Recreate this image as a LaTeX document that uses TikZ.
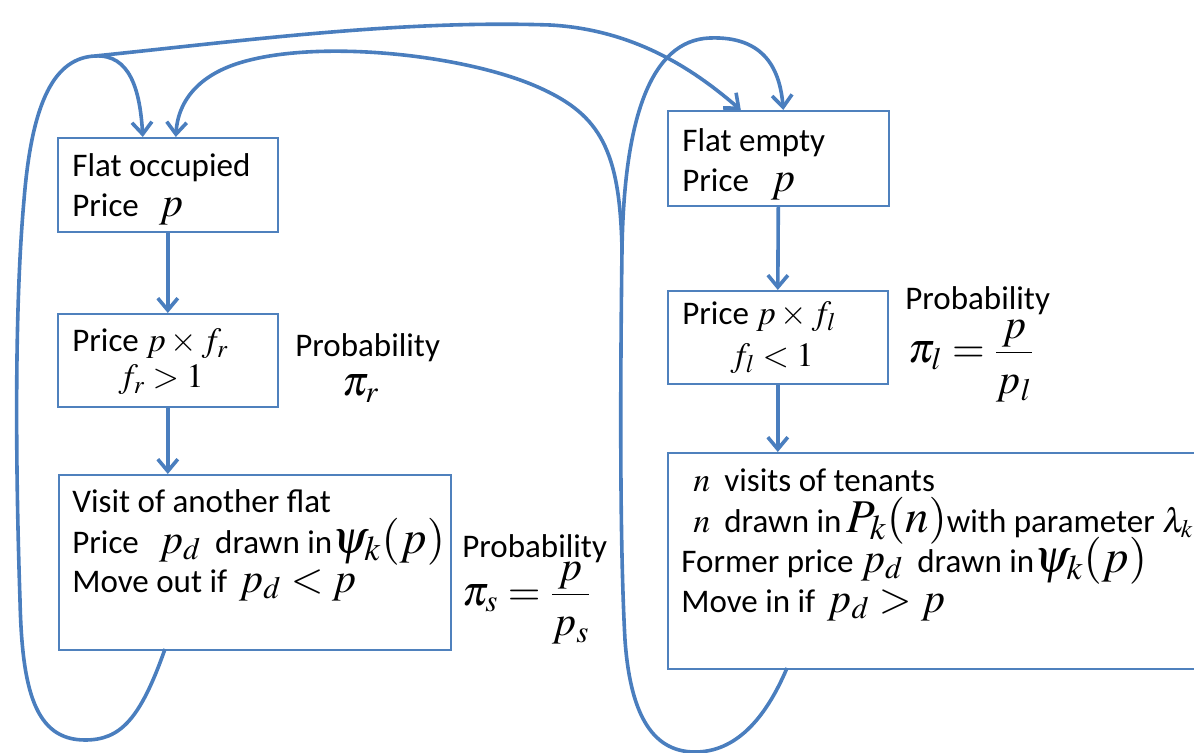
\documentclass[tikz,border=0pt]{standalone}
\usepackage{mathptmx}
\usepackage{fontspec}
\setmainfont{Carlito}
\usetikzlibrary{arrows.meta}
\definecolor{flowblue}{RGB}{74,126,190}
\definecolor{boxblue}{RGB}{79,129,189}
\newcommand\mb[1]{{\fontsize{21}{21}\selectfont$#1$}}
\newcommand\mh[1]{{\fontsize{23.5}{23.5}\selectfont$#1$}}
\newcommand\ms[1]{{\fontsize{17}{17}\selectfont$#1$}}
% fraction with the parts set lower, as in the slide
\newcommand\lowfrac[2]{\displaystyle\frac{\raisebox{-8pt}{$#1$}}{\raisebox{-1pt}{$#2$}}}

\begin{document}
\begin{tikzpicture}[x=0.5pt, y=-0.5pt,
    font=\fontsize{16.5}{20}\selectfont,
    box/.style={rectangle, draw=boxblue, line width=0.8pt, anchor=north west, inner sep=0pt},
    txt/.style={anchor=base west, inner sep=0pt},
    flow/.style={draw=flowblue, line width=1.8pt},
    conn/.style={flow, -{Straight Barb[length=6pt,width=10pt]}}]
  \useasboundingbox (0,0) rectangle (1194,753);

  % left column
  \node[box, minimum width=110pt, minimum height=47pt]   (occ) at (57,137) {};
  \node[box, minimum width=110pt, minimum height=46.5pt] (fr)  at (57,313) {};
  \node[box, minimum width=196pt, minimum height=87.5pt] (vis) at (58,474) {};
  \node[txt] (occ-a) at (72,177) {Flat occupied};
  \node[txt] (occ-b) at (72,217) {Price\hspace{10pt}\mb{p}};
  \node[txt] (fr-a)  at (72,352) {Price \ms{p\times f_r}};
  \node[txt] (fr-b)  at (118,388) {\ms{f_r>1}};
  \node[txt] (prob-r) at (295,357) {Probability};
  \node[txt] (pi-r)  at (342,396) {\mb{\pi_r}};
  \node[txt] (vis-a) at (72,512) {Visit of another flat};
  \node[txt] (vis-b) at (72,553) {Price\hspace{10pt}\mb{p_d}\hspace{7pt}drawn in\mh{\psi_k(p)}};
  \node[txt] (vis-c) at (72,592) {Move out if\hspace{6pt}\mb{p_d<p}};
  \node[txt] (prob-s) at (462,557) {Probability};
  \node[txt] (pi-s)  at (462,605) {\mb{\pi_s=\lowfrac{p}{p_s}}};

  % right column
  \node[box, minimum width=110.5pt, minimum height=47.5pt] (emp) at (667,110) {};
  \node[box, minimum width=110pt, minimum height=46.5pt]   (fl)  at (667,290) {};
  \node[box, minimum width=268pt, minimum height=108pt]    (ten) at (667,452) {};
  \node[txt] (emp-a) at (682,152) {Flat empty};
  \node[txt] (emp-b) at (682,192) {Price\hspace{11pt}\mb{p}};
  \node[txt] (fl-a)  at (682,325) {Price \ms{p\times f_l}};
  \node[txt] (fl-b)  at (730,367) {\ms{f_l<1}};
  \node[txt] (prob-l) at (905,310) {Probability};
  \node[txt] (pi-l)  at (908,363) {\mb{\pi_l=\lowfrac{p}{p_l}}};
  \node[txt] (ten-a) at (693,492) {\ms{n}\hspace{7pt}visits of tenants};
  \node[txt] (ten-b) at (693,532) {\ms{n}\hspace{7pt}drawn in\,\mh{P_k(n)}with parameter \ms{\lambda_k}};
  \node[txt] (ten-c) at (681,572) {Former price \mb{p_d}\hspace{7pt}drawn in\mh{\psi_k(p)}};
  \node[txt] (ten-d) at (681,612) {Move in if\hspace{6pt}\mb{p_d>p}};

  % straight steps
  \draw[conn] (occ.south) -- (fr.north);
  \draw[conn] (fr.south) -- (fr.south |- vis.north);
  \draw[conn] (emp.south) -- (fl.north);
  \draw[conn] (fl.south) -- (fl.south |- ten.north);

  % loops back to the top
  \coordinate (vout) at (165,649);
  \coordinate (tout) at (787,668);
  \coordinate (jl) at (95,56);
  \coordinate (jr) at (622,250);
  \draw[flow] (vout) .. controls (140,720) and (120,740) .. (85,740)
    .. controls (35,740) and (22,690) .. (20,600)
    .. controls (15,450) and (15,300) .. (24,200)
    .. controls (32,100) and (55,58) .. (jl);
  \draw[conn] (jl) .. controls (130,54) and (140,90) .. ([xshift=-12.5pt]occ.north);
  \draw[conn] (jl) .. controls (250,40) and (400,20) .. (550,25)
    .. controls (640,30) and (700,75) .. ([xshift=-18.75pt]emp.north);
  \draw[flow] (tout) .. controls (765,720) and (735,752) .. (695,752)
    .. controls (650,752) and (630,710) .. (625,640)
    .. controls (620,550) and (620,400) .. (jr);
  \draw[conn] (jr) .. controls (624,120) and (650,40) .. (710,38)
    .. controls (765,36) and (780,70) .. ([xshift=2.5pt]emp.north);
  \draw[conn] (jr) .. controls (620,150) and (600,115) .. (540,88)
    .. controls (470,56) and (330,40) .. (250,60)
    .. controls (200,72) and (178,100) .. ([xshift=4pt]occ.north);
\end{tikzpicture}
\end{document}
